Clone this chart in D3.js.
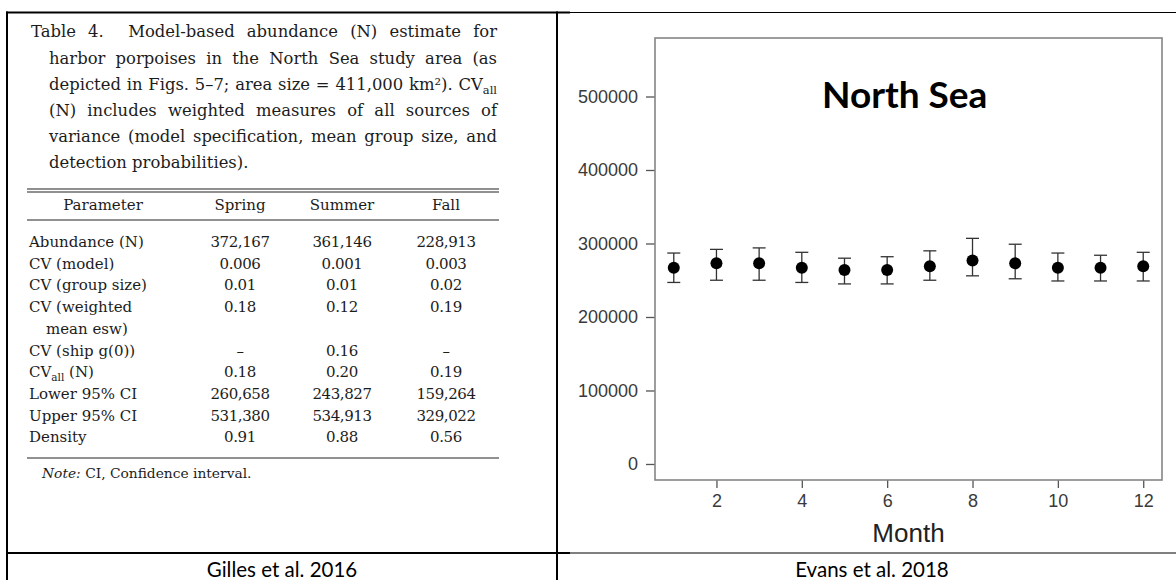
<!DOCTYPE html>
<html lang="en">
<head>
<meta charset="utf-8">
<script src="https://cdn.jsdelivr.net/npm/d3@7"></script>
<title>Harbor porpoise abundance, North Sea</title>
<style>
body { margin: 0; background: #fff; }
svg { display: block; }
</style>
</head>
<body>
<svg width="1176" height="580"></svg>

<script>
// ---- left cell: Table 4 (Gilles et al. 2016)
var headLines = [
  "Table 4.  Model-based abundance (N) estimate for",
  "harbor porpoises in the North Sea study area (as",
  "depicted in Figs. 5–7; area size = 411,000 km²). CV_all",
  "(N) includes weighted measures of all sources of",
  "variance (model specification, mean group size, and",
  "detection probabilities)."
];
var columns = ["Parameter", "Spring", "Summer", "Fall"];
var params = ["Abundance (N)", "CV (model)", "CV (group size)", "CV (weighted|mean esw)",
              "CV (ship g(0))", "CV_all (N)", "Lower 95% CI", "Upper 95% CI", "Density"];
var spring = ["372,167", "0.006", "0.01", "0.18", "–", "0.18", "260,658", "531,380", "0.91"];
var summer = ["361,146", "0.001", "0.01", "0.12", "0.16", "0.20", "243,827", "534,913", "0.88"];
var fall   = ["228,913", "0.003", "0.02", "0.19", "–", "0.19", "159,264", "329,022", "0.56"];
var note = ["Note:", " CI, Confidence interval."];

// ---- right cell: monthly estimates (Evans et al. 2018)
var months    = [1, 2, 3, 4, 5, 6, 7, 8, 9, 10, 11, 12];
var abundance = [267000, 273000, 273000, 267000, 264000, 264000, 269000, 277000, 273000, 267000, 267000, 269000];
var upper     = [287000, 292000, 294000, 288000, 280000, 282000, 290000, 307000, 299000, 287000, 284000, 288000];
var lower     = [247000, 250000, 250000, 247000, 245000, 245000, 250000, 256000, 252000, 249000, 249000, 249000];
var yTicks = [0, 100000, 200000, 300000, 400000, 500000];
var xTicks = [2, 4, 6, 8, 10, 12];

var captions = ["Gilles et al. 2016", "Evans et al. 2018"];

var svg = d3.select("svg");

// writes a string into a text node, turning "_all" into a subscript
function richText(t, str, size) {
  var parts = str.split("_all");
  parts.forEach(function(p, i) {
    if (i > 0) {
      t.append("tspan").attr("font-size", size * 0.7).attr("dy", 4).text("all");
      t.append("tspan").attr("dy", -4).text(p);
    } else {
      t.append("tspan").text(p);
    }
  });
}

// ---------- table borders
function hline(x1, x2, y, w) {
  svg.append("line").attr("x1", x1).attr("x2", x2).attr("y1", y).attr("y2", y)
    .attr("stroke", "#000").attr("stroke-width", w);
}
function vline(x, y1, y2, w) {
  svg.append("line").attr("x1", x).attr("x2", x).attr("y1", y1).attr("y2", y2)
    .attr("stroke", "#000").attr("stroke-width", w);
}
hline(6, 570, 12.5, 2);
hline(570, 1176, 12.5, 1);
hline(6, 570, 553, 2);
hline(570, 1176, 553, 1);
vline(7, 11.5, 580, 2);
vline(557, 11.5, 580, 2);

// ---------- the table picture
var tbl = svg.append("g")
  .attr("font-family", "'DejaVu Serif', serif")
  .attr("fill", "#1c1c1c");

var headSize = 16.4;
var headX = [31, 49, 49, 49, 49, 49];
var headY = [37, 64, 90, 116, 142, 168];
var rightEdge = 497;

headLines.forEach(function(line, i) {
  var t = tbl.append("text")
    .attr("x", headX[i]).attr("y", headY[i])
    .attr("font-size", headSize)
    .style("white-space", "pre");
  richText(t, line, headSize);
  if (i < headLines.length - 1) {
    var len = t.node().getComputedTextLength();
    var gaps = line.split(" ").length - 1;
    t.style("word-spacing", ((rightEdge - headX[i] - len) / gaps) + "px");
  }
});

// rules
tbl.append("line").attr("x1", 27).attr("x2", 499).attr("y1", 189).attr("y2", 189).attr("stroke", "#222").attr("stroke-width", 1.2);
tbl.append("line").attr("x1", 27).attr("x2", 499).attr("y1", 192).attr("y2", 192).attr("stroke", "#222").attr("stroke-width", 1.2);
tbl.append("line").attr("x1", 27).attr("x2", 499).attr("y1", 220).attr("y2", 220).attr("stroke", "#222").attr("stroke-width", 1);
tbl.append("line").attr("x1", 27).attr("x2", 499).attr("y1", 458).attr("y2", 458).attr("stroke", "#222").attr("stroke-width", 1);

var tabSize = 15;
var colX = [103, 240, 342, 446];

tbl.selectAll("text.head").data(columns).enter()
  .append("text").attr("class", "head")
  .attr("x", function(d, i) { return colX[i]; })
  .attr("y", 210)
  .attr("text-anchor", "middle")
  .attr("font-size", tabSize)
  .text(function(d) { return d; });

var lineH = 21.7;
var rowY = [];
var y0 = 247;
params.forEach(function(p) {
  rowY.push(y0);
  y0 += lineH * p.split("|").length;
});

params.forEach(function(p, i) {
  var lines = p.split("|");
  lines.forEach(function(l, k) {
    var t = tbl.append("text")
      .attr("x", k == 0 ? 29 : 46)
      .attr("y", rowY[i] + k * lineH)
      .attr("font-size", tabSize);
    richText(t, l, tabSize);
  });
});

[spring, summer, fall].forEach(function(col, c) {
  tbl.selectAll("text.c" + c).data(col).enter()
    .append("text").attr("class", "c" + c)
    .attr("x", colX[c + 1])
    .attr("y", function(d, i) { return rowY[i]; })
    .attr("text-anchor", "middle")
    .attr("font-size", tabSize)
    .attr("letter-spacing", -0.4)
    .text(function(d) { return d; });
});

var nt = tbl.append("text").attr("x", 42).attr("y", 478).attr("font-size", 13.8).style("white-space", "pre");
nt.append("tspan").attr("font-style", "italic").text(note[0]);
nt.append("tspan").text(note[1]);

// ---------- the monthly chart
var x = d3.scaleLinear().domain([0.56, 12.44]).range([655, 1162]);
var y = d3.scaleLinear().domain([-21800, 579600]).range([480, 38]);

var chart = svg.append("g").attr("font-family", "'Liberation Sans', Arial, sans-serif");

chart.append("g")
  .attr("transform", "translate(655,0)")
  .call(d3.axisLeft(y).tickValues(yTicks).tickSize(9).tickSizeOuter(0).tickPadding(8).tickFormat(d3.format("d")))
  .call(function(g) {
    g.select(".domain").remove();
    g.selectAll("line").attr("stroke", "#555").attr("stroke-width", 1.3);
    g.selectAll("text").attr("font-size", 18).attr("fill", "#3a3a3a").attr("font-family", "'Liberation Sans', Arial, sans-serif");
  });

chart.append("g")
  .attr("transform", "translate(0,480)")
  .call(d3.axisBottom(x).tickValues(xTicks).tickSize(8).tickSizeOuter(0).tickPadding(6))
  .call(function(g) {
    g.select(".domain").remove();
    g.selectAll("line").attr("stroke", "#555").attr("stroke-width", 1.3);
    g.selectAll("text").attr("font-size", 18).attr("fill", "#3a3a3a").attr("font-family", "'Liberation Sans', Arial, sans-serif");
  });

chart.append("rect")
  .attr("x", x.range()[0]).attr("y", y.range()[1])
  .attr("width", x.range()[1] - x.range()[0])
  .attr("height", y.range()[0] - y.range()[1])
  .attr("fill", "none").attr("stroke", "#858585").attr("stroke-width", 1.6);

var pts = months.map(function(m, i) {
  return { m: m, n: abundance[i], lo: lower[i], hi: upper[i] };
});

chart.selectAll("line.bar").data(pts).enter()
  .append("line").attr("class", "bar")
  .attr("x1", function(d) { return x(d.m); }).attr("x2", function(d) { return x(d.m); })
  .attr("y1", function(d) { return y(d.lo); }).attr("y2", function(d) { return y(d.hi); })
  .attr("stroke", "#333").attr("stroke-width", 1.3);

chart.selectAll("line.capHi").data(pts).enter()
  .append("line").attr("class", "capHi")
  .attr("x1", function(d) { return x(d.m) - 6.5; }).attr("x2", function(d) { return x(d.m) + 6.5; })
  .attr("y1", function(d) { return y(d.hi); }).attr("y2", function(d) { return y(d.hi); })
  .attr("stroke", "#333").attr("stroke-width", 1.3);

chart.selectAll("line.capLo").data(pts).enter()
  .append("line").attr("class", "capLo")
  .attr("x1", function(d) { return x(d.m) - 6.5; }).attr("x2", function(d) { return x(d.m) + 6.5; })
  .attr("y1", function(d) { return y(d.lo); }).attr("y2", function(d) { return y(d.lo); })
  .attr("stroke", "#333").attr("stroke-width", 1.3);

chart.selectAll("circle").data(pts).enter()
  .append("circle")
  .attr("cx", function(d) { return x(d.m); })
  .attr("cy", function(d) { return y(d.n); })
  .attr("r", 6)
  .attr("fill", "#000");

chart.append("text")
  .attr("x", (x.range()[0] + x.range()[1]) / 2)
  .attr("y", 542)
  .attr("text-anchor", "middle")
  .attr("font-size", 26)
  .attr("fill", "#222")
  .text("Month");

svg.append("text")
  .attr("x", 822).attr("y", 108)
  .attr("font-family", "Lato, sans-serif")
  .attr("font-weight", 700)
  .attr("font-size", 37)
  .attr("fill", "#000")
  .text("North Sea");

// ---------- cell captions
svg.selectAll("text.cap").data(captions).enter()
  .append("text").attr("class", "cap")
  .attr("x", function(d, i) { return i == 0 ? 282 : 872; })
  .attr("y", 577)
  .attr("text-anchor", "middle")
  .attr("font-family", "Lato, sans-serif")
  .attr("font-size", 20.5)
  .attr("fill", "#000")
  .text(function(d) { return d; });
</script>
</body>
</html>
